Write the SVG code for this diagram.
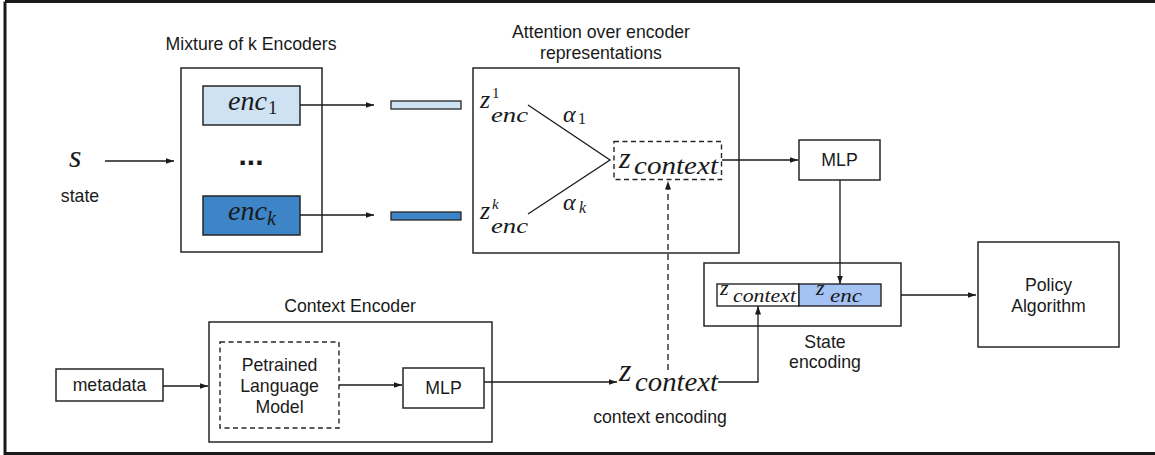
<svg xmlns="http://www.w3.org/2000/svg" width="1155" height="455" viewBox="0 0 1155 455">
<defs>
<style>
.box{fill:#fff;stroke:#262626;stroke-width:1.5}
.dash{fill:none;stroke:#262626;stroke-width:1.4;stroke-dasharray:5,3.5}
.c{fill:none;stroke:#1a1a1a;stroke-width:1.3}
.cd{fill:none;stroke:#1a1a1a;stroke-width:1.3;stroke-dasharray:6,4}
.t{font-family:"Liberation Sans",Arial,sans-serif;font-size:17.7px;fill:#1a1a1a;text-anchor:middle}
.m{font-family:"Liberation Serif","Times New Roman",serif;font-style:italic;fill:#1a1a1a}
.r{font-family:"Liberation Serif","Times New Roman",serif;fill:#1a1a1a}
</style>
<marker id="ah" markerUnits="userSpaceOnUse" markerWidth="9" markerHeight="7" refX="8.5" refY="3" orient="auto">
<path d="M0,0 L8.5,3 L0,6 z" fill="#1a1a1a"/>
</marker>
</defs>
<rect width="1155" height="455" fill="#fff"/>
<path d="M5,1.5 H1156 M5,1.5 V453.5 H1156" fill="none" stroke="#1a1a1a" stroke-width="3"/>

<g id="state">
<text class="m" x="69" y="167" font-size="32">s</text>
<text class="t" x="80" y="202">state</text>
</g>

<g id="mixture">
<text class="t" x="251" y="50">Mixture of k Encoders</text>
<rect class="box" x="181" y="68" width="141" height="184"/>
<text x="251" y="165" font-family="Liberation Sans,Arial,sans-serif" font-weight="bold" font-size="30" text-anchor="middle" fill="#1a1a1a">...</text>
</g>
<g id="enc1">
<rect x="203" y="86" width="97" height="39" fill="#cfe2f3" stroke="#262626" stroke-width="1.5"/>
<text class="m" x="228" y="110" font-size="28" textLength="39" lengthAdjust="spacingAndGlyphs">enc</text>
<text class="r" x="268" y="114" font-size="19">1</text>
</g>
<g id="enck">
<rect x="203" y="196" width="97" height="39" fill="#3d85c6" stroke="#262626" stroke-width="1.5"/>
<text class="m" x="228" y="220" font-size="28" textLength="39" lengthAdjust="spacingAndGlyphs">enc</text>
<text class="m" x="267" y="225" font-size="20">k</text>
</g>

<g id="bar1"><rect x="391" y="101" width="70" height="8" fill="#cfe2f3" stroke="#262626" stroke-width="1.3"/></g>
<g id="bark"><rect x="391" y="212" width="70" height="8" fill="#3d85c6" stroke="#262626" stroke-width="1.3"/></g>

<g id="attention">
<text class="t" x="601" y="38">Attention over encoder</text>
<text class="t" x="601" y="59">representations</text>
<rect class="box" x="473" y="68" width="266" height="185"/>
<text class="m" x="480" y="108" font-size="26">z</text>
<text class="r" x="492" y="98" font-size="15">1</text>
<text class="m" x="491" y="122" font-size="22" textLength="37" lengthAdjust="spacingAndGlyphs">enc</text>
<text class="m" x="480" y="219" font-size="26">z</text>
<text class="m" x="492" y="209" font-size="15">k</text>
<text class="m" x="491" y="233" font-size="22" textLength="37" lengthAdjust="spacingAndGlyphs">enc</text>
<path class="c" d="M528,105 L610,160 L528,214"/>
<text class="m" x="563" y="122" font-size="24">α</text>
<text class="r" x="578" y="124" font-size="16">1</text>
<text class="m" x="563" y="210" font-size="24">α</text>
<text class="m" x="579" y="213" font-size="16">k</text>
</g>
<g id="zcontext-att">
<rect class="dash" x="614" y="141.5" width="107.5" height="38"/>
<text class="m" x="619" y="168" font-size="30">z</text>
<text class="m" x="634" y="174" font-size="25" textLength="84" lengthAdjust="spacingAndGlyphs">context</text>
</g>

<g id="mlp-top">
<rect class="box" x="799" y="140" width="81" height="40"/>
<text class="t" x="839.5" y="166">MLP</text>
</g>

<g id="state-encoding">
<rect class="box" x="704" y="263" width="197" height="63"/>
<rect x="717" y="284" width="82" height="22" fill="#fff" stroke="#262626" stroke-width="1.4"/>
<rect x="799" y="284" width="82" height="22" fill="#a4c2f4" stroke="#262626" stroke-width="1.4"/>
<text class="m" x="720" y="295" font-size="22">z</text>
<text class="m" x="733" y="302" font-size="18" textLength="63" lengthAdjust="spacingAndGlyphs">context</text>
<text class="m" x="816" y="295" font-size="22">z</text>
<text class="m" x="830" y="302" font-size="18" textLength="32" lengthAdjust="spacingAndGlyphs">enc</text>
<text class="t" x="825" y="348">State</text>
<text class="t" x="825" y="368">encoding</text>
</g>

<g id="policy">
<rect class="box" x="978" y="242" width="141" height="105"/>
<text class="t" x="1048.5" y="291">Policy</text>
<text class="t" x="1048.5" y="312">Algorithm</text>
</g>

<g id="metadata">
<rect class="box" x="56" y="369" width="107" height="32"/>
<text class="t" x="109.5" y="391">metadata</text>
</g>

<g id="context-encoder">
<text class="t" x="350" y="312">Context Encoder</text>
<rect class="box" x="209" y="322" width="283" height="120"/>
</g>
<g id="plm">
<rect class="dash" x="220" y="342" width="119" height="86"/>
<text class="t" x="279.5" y="371">Petrained</text>
<text class="t" x="279.5" y="392">Language</text>
<text class="t" x="279.5" y="413">Model</text>
</g>
<g id="mlp-bottom">
<rect class="box" x="403" y="368" width="81" height="40"/>
<text class="t" x="443.5" y="394">MLP</text>
</g>

<g id="zcontext-bottom">
<text class="m" x="619" y="381" font-size="32">z</text>
<text class="m" x="635" y="391" font-size="27" textLength="83" lengthAdjust="spacingAndGlyphs">context</text>
<text class="t" x="660" y="423">context encoding</text>
</g>

<g id="connectors">
<path class="c" d="M105,161 H174" marker-end="url(#ah)"/>
<path class="c" d="M300,105 H374" marker-end="url(#ah)"/>
<path class="c" d="M300,215 H374" marker-end="url(#ah)"/>
<path class="c" d="M722,160 H798" marker-end="url(#ah)"/>
<path class="c" d="M840,180 V284" marker-end="url(#ah)"/>
<path class="c" d="M901,295 H976" marker-end="url(#ah)"/>
<path class="c" d="M163,386 H208" marker-end="url(#ah)"/>
<path class="c" d="M339,385 H402" marker-end="url(#ah)"/>
<path class="c" d="M484,382 H617" marker-end="url(#ah)"/>
<path class="cd" d="M668,370 V181" marker-end="url(#ah)"/>
<path class="c" d="M718,382 H758 V306" marker-end="url(#ah)"/>
</g>
</svg>
